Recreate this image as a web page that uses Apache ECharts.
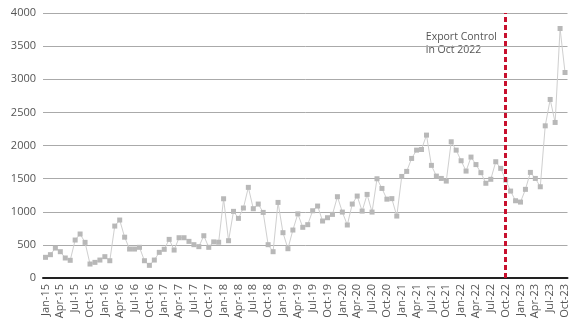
<!DOCTYPE html>
<html>
<head>
<meta charset="utf-8">
<script src="https://cdn.jsdelivr.net/npm/echarts@6/dist/echarts.min.js"></script>
<style>
  html, body { margin: 0; padding: 0; background: #fff; }
  #chart { width: 581px; height: 330px; }
</style>
</head>
<body>
<div id="chart"></div>
<script>
// Monthly series, Jan 2015 – Oct 2023
const years = ['15', '16', '17', '18', '19', '20', '21', '22', '23'];
const monthNames = ['Jan', 'Feb', 'Mar', 'Apr', 'May', 'Jun', 'Jul', 'Aug', 'Sep', 'Oct', 'Nov', 'Dec'];

const values2015 = [312, 352, 452, 397, 302, 267, 573, 664, 538, 211, 236, 271];
const values2016 = [322, 261, 784, 875, 616, 437, 437, 463, 261, 191, 271, 387];
const values2017 = [433, 583, 422, 608, 608, 553, 503, 473, 638, 463, 545, 540];
const values2018 = [1196, 563, 1006, 900, 1056, 1368, 1046, 1116, 990, 503, 397, 1141];
const values2019 = [684, 442, 724, 968, 765, 805, 1015, 1086, 860, 910, 960, 1227];
const values2020 = [995, 800, 1116, 1237, 1010, 1262, 995, 1498, 1352, 1190, 1198, 935];
const values2021 = [1533, 1609, 1805, 1930, 1940, 2157, 1700, 1538, 1503, 1463, 2056, 1930];
const values2022 = [1770, 1614, 1825, 1712, 1590, 1430, 1490, 1755, 1655, 1480, 1312, 1166];
const values2023 = [1146, 1338, 1594, 1503, 1377, 2297, 2695, 2348, 3766, 3102];

const yearly = [values2015, values2016, values2017, values2018, values2019,
                values2020, values2021, values2022, values2023];

const categories = [];
const values = [];
yearly.forEach((arr, yi) => {
  arr.forEach((v, mi) => {
    categories.push(monthNames[mi] + '-' + years[yi]);
    values.push(v);
  });
});

const eventMonth = 'Oct-22';
const eventNote = 'Export Control\nin Oct 2022';

const yTicks = { min: 0, max: 4000, interval: 500 };

const font = '"Open Sans", "Noto Sans", sans-serif';

const chart = echarts.init(document.getElementById('chart'), null, { renderer: 'canvas' });
chart.setOption({
  animation: false,
  backgroundColor: '#ffffff',
  grid: { left: 43, right: 13.5, top: 13, bottom: 52 },
  xAxis: {
    type: 'category',
    data: categories,
    boundaryGap: true,
    axisLine: { show: true, lineStyle: { color: '#222', width: 2 } },
    axisTick: { show: false },
    axisLabel: {
      interval: 2,
      rotate: 90,
      color: '#555',
      fontSize: 11,
      fontFamily: font,
      margin: 6
    },
    splitLine: { show: false }
  },
  yAxis: {
    type: 'value',
    min: yTicks.min,
    max: yTicks.max,
    interval: yTicks.interval,
    axisLine: { show: false },
    axisTick: { show: false },
    axisLabel: {
      color: '#555',
      fontSize: 11,
      fontFamily: font,
      margin: 7,
      formatter: v => String(v)
    },
    splitLine: { show: true, lineStyle: { color: '#aaaaaa', width: 1 } }
  },
  series: [{
    type: 'line',
    data: values,
    symbol: 'rect',
    symbolSize: 5,
    showSymbol: true,
    showAllSymbol: true,
    itemStyle: { color: '#b8b8b8' },
    lineStyle: { color: '#cfcfcf', width: 1 },
    markLine: {
      silent: true,
      symbol: ['none', 'none'],
      label: { show: false },
      lineStyle: { color: '#c8102e', width: 3, type: [5, 3] },
      data: [{ xAxis: eventMonth }]
    },
    z: 3
  }],
  graphic: [{
    type: 'text',
    right: 84,
    top: 30,
    style: {
      text: eventNote,
      fill: '#555',
      font: '10.5px ' + font,
      align: 'right',
      lineHeight: 13.5
    }
  }]
});
</script>
</body>
</html>
